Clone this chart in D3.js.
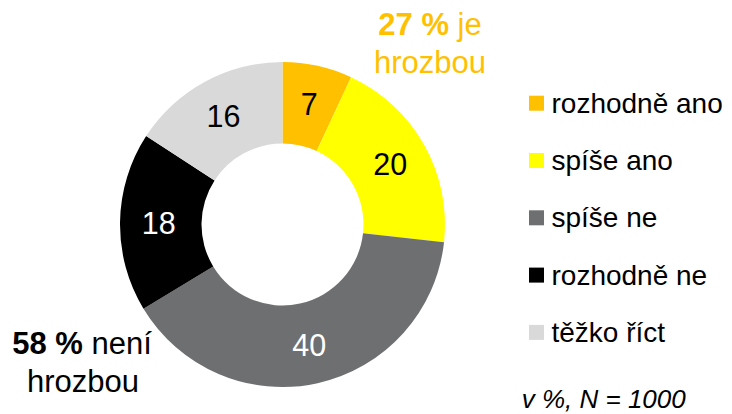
<!DOCTYPE html>
<html>
<head>
<meta charset="utf-8">
<script src="https://cdn.jsdelivr.net/npm/d3@7"></script>
<style>
  html, body { margin: 0; padding: 0; background: #fff; }
  svg { display: block; font-family: "Liberation Sans", Arial, sans-serif; }
</style>
</head>
<body>
<svg id="chart" width="732" height="414"></svg>
<script>
const categories = ["rozhodně ano", "spíše ano", "spíše ne", "rozhodně ne", "těžko říct"];
const values = [7, 20, 40, 18, 16];
const colors = ["#FFC000", "#FFFF00", "#6D6F71", "#000000", "#D9D9D9"];
const labelColors = ["#000000", "#000000", "#FFFFFF", "#FFFFFF", "#000000"];
const note = "v %, N = 1000";

const svg = d3.select("#chart");
const cx = 282.5, cy = 224.5, rOuter = 162.5, rInner = 81;

const pie = d3.pie().sort(null).value(d => d);
const arcs = pie(values);
const arc = d3.arc().innerRadius(rInner).outerRadius(rOuter);

const g = svg.append("g").attr("transform", `translate(${cx},${cy})`);
g.selectAll("path.slice").data(arcs).enter().append("path")
  .attr("class", "slice")
  .attr("d", arc)
  .attr("fill", (d, i) => colors[i]);

const labelArc = d3.arc().innerRadius(rInner + 2).outerRadius(rOuter + 2);
g.selectAll("text.val").data(arcs).enter().append("text")
  .attr("class", "val")
  .attr("transform", d => `translate(${labelArc.centroid(d)})`)
  .attr("text-anchor", "middle")
  .attr("dy", "0.36em")
  .attr("font-size", 30.5)
  .attr("fill", (d, i) => labelColors[i])
  .text(d => d.data);

// Annotation top
const yesSum = values[0] + values[1];
const noSum = values[2] + values[3];
const topTxt = svg.append("text").attr("x", 430).attr("y", 34.5)
  .attr("text-anchor", "middle").attr("font-size", 31).attr("fill", "#FFC000");
topTxt.append("tspan").attr("font-weight", "bold").text(yesSum + " %");
topTxt.append("tspan").text(" je");
svg.append("text").attr("x", 430).attr("y", 72.7)
  .attr("text-anchor", "middle").attr("font-size", 31).attr("fill", "#FFC000")
  .text("hrozbou");

// Annotation bottom-left
const blTxt = svg.append("text").attr("x", 82).attr("y", 354.3)
  .attr("text-anchor", "middle").attr("font-size", 31).attr("fill", "#000");
blTxt.append("tspan").attr("font-weight", "bold").text(noSum + " %");
blTxt.append("tspan").text(" není");
svg.append("text").attr("x", 83).attr("y", 391.7)
  .attr("text-anchor", "middle").attr("font-size", 31).attr("fill", "#000")
  .text("hrozbou");

// Legend
const legend = svg.append("g");
const rows = legend.selectAll("g").data(categories).enter().append("g")
  .attr("transform", (d, i) => `translate(529, ${95.7 + i * 57.3})`);
rows.append("rect").attr("width", 15).attr("height", 15)
  .attr("fill", (d, i) => colors[i]);
rows.append("text").attr("x", 22.5).attr("y", 17)
  .attr("font-size", 28).attr("fill", "#000").text(d => d);

svg.append("text").attr("x", 521.7).attr("y", 408)
  .attr("font-size", 26).attr("font-style", "italic").attr("fill", "#000")
  .text(note);
</script>
</body>
</html>
